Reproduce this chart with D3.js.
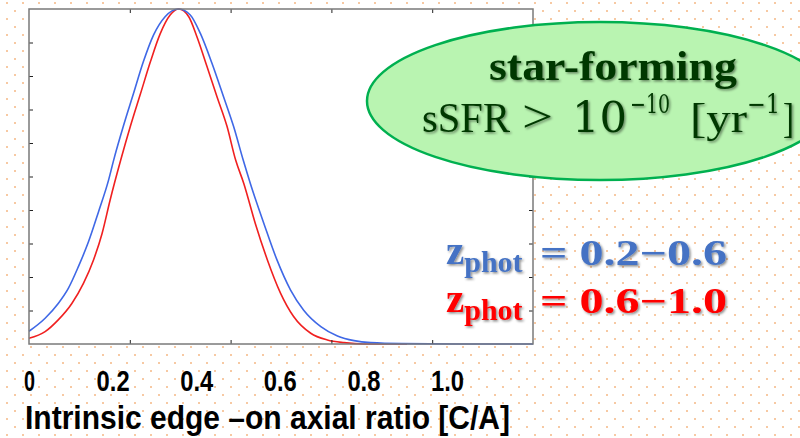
<!DOCTYPE html>
<html><head><meta charset="utf-8">
<script src="https://cdn.jsdelivr.net/npm/d3@7"></script>
<style>html,body{margin:0;padding:0;background:#fff;}svg{display:block;}</style>
</head><body>
<svg id="c" width="800" height="438"></svg>
<script>
// ---- data ----
const blueX = [0,0.032,0.058,0.078,0.098,0.118,0.138,0.158,0.168,0.187,0.207,0.227,0.247,0.270,0.297,0.320,0.340,0.363,0.386,0.406,0.425,0.439,0.466,0.492,0.519,0.545,0.579,0.612,0.645,0.678,0.74,0.85,1.0];
const blueY = [0.038,0.077,0.121,0.166,0.231,0.305,0.395,0.490,0.549,0.649,0.746,0.843,0.922,0.977,1.0,0.982,0.927,0.838,0.738,0.649,0.549,0.480,0.360,0.251,0.161,0.101,0.052,0.024,0.010,0.004,0.001,0,0];
const redX = [0,0.032,0.058,0.085,0.108,0.128,0.145,0.161,0.182,0.201,0.221,0.241,0.260,0.280,0.297,0.317,0.333,0.353,0.373,0.393,0.410,0.426,0.449,0.473,0.499,0.525,0.559,0.592,0.625,0.665,0.75];
const redY = [0.017,0.037,0.072,0.121,0.181,0.251,0.330,0.430,0.549,0.649,0.746,0.843,0.925,0.982,1.0,0.977,0.918,0.829,0.738,0.649,0.549,0.480,0.360,0.251,0.152,0.082,0.032,0.012,0.004,0,0];
const xTicks = [0.2,0.4,0.6,0.8];
const yTicks = [0.1,0.2,0.3,0.4,0.5,0.6,0.7,0.8,0.9];
const xTickLabels = ["0","0.2","0.4","0.6","0.8","1.0"];
const xTitle = "Intrinsic edge \u2013on axial ratio [C/A]";
const legendRanges = ["= 0.2\u22120.6","= 0.6\u22121.0"];
const legendColors = ["#4472c4","#ff0000"];
const lineColors = ["#3f68e6","#f02020"];

// ---- layout ----
const svg = d3.select("#c");
const L=29, R=533, T=9, B=344;
const x = d3.scaleLinear().domain([0,1]).range([L,R]);
const y = d3.scaleLinear().domain([0,1]).range([B,T]);
const labelScale = d3.scaleLinear().domain([0,5]).range([29,447]);

const defs = svg.append("defs");
const pat = defs.append("pattern").attr("id","dots").attr("patternUnits","userSpaceOnUse")
  .attr("width",16).attr("height",16).attr("x",0).attr("y",0);
pat.append("rect").attr("x",6).attr("y",2).attr("width",2).attr("height",2).attr("fill","#f7c9a3");
pat.append("rect").attr("x",14).attr("y",10).attr("width",2).attr("height",2).attr("fill","#f7c9a3");
const f = defs.append("filter").attr("id","sh").attr("x","-10%").attr("y","-20%").attr("width","130%").attr("height","150%");
f.append("feDropShadow").attr("dx",1.5).attr("dy",1.5).attr("stdDeviation",1.3).attr("flood-color","#000").attr("flood-opacity",0.45);

svg.append("rect").attr("width",800).attr("height",438).attr("fill","#fff");
svg.append("rect").attr("width",800).attr("height",438).attr("fill","url(#dots)");
svg.append("rect").attr("x",L).attr("y",T).attr("width",R-L).attr("height",B-T).attr("fill","#fff");

// curves
const line = d3.line().x(d=>x(d[0])).y(d=>y(d[1])).curve(d3.curveMonotoneX);
svg.append("path").datum(d3.zip(redX,redY)).attr("d",line).attr("fill","none").attr("stroke",lineColors[1]).attr("stroke-width",1.6);
svg.append("path").datum(d3.zip(blueX,blueY)).attr("d",line).attr("fill","none").attr("stroke",lineColors[0]).attr("stroke-width",1.6);

// axes (inward ticks, no labels)
const ax = (g)=>{ g.select(".domain").remove(); g.selectAll("text").remove(); g.selectAll("line").attr("stroke","#222"); };
svg.append("g").attr("transform",`translate(${L},0)`).call(d3.axisLeft(y).tickValues(yTicks).tickSizeInner(-4).tickSizeOuter(0)).call(ax);
svg.append("g").attr("transform",`translate(${R},0)`).call(d3.axisRight(y).tickValues(yTicks).tickSizeInner(-4).tickSizeOuter(0)).call(ax);
svg.append("g").attr("transform",`translate(0,${T})`).call(d3.axisTop(x).tickValues(xTicks).tickSizeInner(-4).tickSizeOuter(0)).call(ax);
svg.append("g").attr("transform",`translate(0,${B})`).call(d3.axisBottom(x).tickValues(xTicks).tickSizeInner(-4).tickSizeOuter(0)).call(ax);
svg.append("rect").attr("x",L).attr("y",T).attr("width",R-L).attr("height",B-T).attr("fill","none").attr("stroke","#7a7a7a").attr("stroke-width",1.5);

// tick labels
const lab = svg.append("g").attr("transform","translate(0,391)")
  .call(d3.axisBottom(labelScale).tickValues(d3.range(6)).tickSize(0).tickFormat(i=>xTickLabels[i]));
lab.select(".domain").remove();
lab.selectAll("line").remove();
lab.attr("font-family","'Liberation Sans', Arial, sans-serif").attr("font-size",29).attr("font-weight","bold");
lab.selectAll("text").attr("fill","#000").attr("dy",0).attr("y",0)
  .attr("textLength",i=>xTickLabels[i].length*11).attr("lengthAdjust","spacingAndGlyphs");

svg.append("text").attr("x",25).attr("y",429).attr("textLength",485).attr("lengthAdjust","spacingAndGlyphs")
  .attr("font-family","'Liberation Sans', Arial, sans-serif").attr("font-weight","bold").attr("font-size",33).attr("fill","#000").text(xTitle);

// ellipse annotation
svg.append("ellipse").attr("cx",600).attr("cy",101).attr("rx",233).attr("ry",79)
  .attr("fill","#b9f4b1").attr("stroke","#00b050").attr("stroke-width",2.5);
const ann = svg.append("g").attr("filter","url(#sh)").attr("fill","#063806").attr("font-family","'Liberation Serif', serif");
ann.append("text").attr("x",489).attr("y",80).attr("textLength",248).attr("lengthAdjust","spacingAndGlyphs")
  .attr("font-weight","bold").attr("font-size",42).text("star-forming");
const pieces = [
  {t:"sSFR", x:422, w:88, s:42, b:132, f:"'Liberation Serif', serif"},
  {t:">", x:522, w:31, s:46, b:132, f:"'Liberation Serif', serif"},
  {t:"10", x:572, w:55, s:42, b:132, f:"'DejaVu Serif', serif"},
  {t:"\u221210", x:630, w:40, s:26, b:113, f:"'DejaVu Serif', serif"},
  {t:"[yr", x:690, w:57, s:42, b:132, f:"'Liberation Serif', serif"},
  {t:"\u22121", x:747, w:33, s:26, b:113, f:"'DejaVu Serif', serif"},
  {t:"]", x:783, w:11, s:42, b:132, f:"'Liberation Serif', serif"}
];
pieces.forEach(p=>ann.append("text").attr("x",p.x).attr("y",p.b).attr("font-size",p.s).attr("font-family",p.f)
  .attr("textLength",p.w).attr("lengthAdjust","spacingAndGlyphs").text(p.t));

// legend
legendRanges.forEach((r,i)=>{
  const by = 264 + i*48;
  const g = svg.append("g").attr("filter","url(#sh)");
  const t = g.append("text").attr("x",446).attr("y",by).attr("font-family","'Liberation Serif', serif").attr("font-weight","bold").attr("fill",legendColors[i]);
  t.append("tspan").attr("font-size",41).text("z");
  t.append("tspan").attr("font-size",30).attr("dy",8).text("phot");
  g.append("text").attr("x",540).attr("y",by+1).attr("textLength",187).attr("lengthAdjust","spacingAndGlyphs")
   .attr("font-family","'Liberation Serif', serif").attr("font-weight","bold").attr("font-size",36).attr("fill",legendColors[i]).text(r);
});
</script>
</body></html>
